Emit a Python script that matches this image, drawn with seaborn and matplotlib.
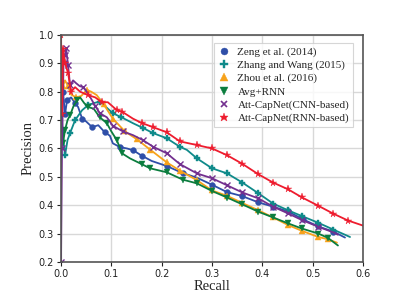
import matplotlib
matplotlib.use("Agg")
import matplotlib.pyplot as plt
from matplotlib.lines import Line2D
import seaborn as sns
import pandas as pd

labels = ["Zeng et al. (2014)", "Zhang and Wang (2015)", "Zhou et al. (2016)",
          "Avg+RNN", "Att-CapNet(CNN-based)", "Att-CapNet(RNN-based)"]

zeng_r = [0.0, 0.004, 0.008, 0.012, 0.02, 0.028, 0.034, 0.042, 0.05, 0.062, 0.074, 0.087, 0.097, 0.103,
          0.117, 0.131, 0.143, 0.16, 0.18, 0.21, 0.242, 0.27, 0.3, 0.33, 0.36, 0.392, 0.421, 0.451,
          0.481, 0.511, 0.541, 0.564]
zeng_p = [0.9, 0.8, 0.72, 0.77, 0.78, 0.76, 0.746, 0.705, 0.695, 0.675, 0.682, 0.657, 0.645, 0.618,
          0.605, 0.6, 0.594, 0.575, 0.556, 0.538, 0.513, 0.497, 0.472, 0.446, 0.432, 0.41, 0.395, 0.378,
          0.35, 0.325, 0.307, 0.286]

zhang_r = [0.0, 0.003, 0.008, 0.013, 0.018, 0.028, 0.042, 0.054, 0.065, 0.077, 0.09, 0.103, 0.12, 0.143,
           0.163, 0.183, 0.21, 0.236, 0.25, 0.27, 0.3, 0.33, 0.36, 0.392, 0.421, 0.451, 0.478, 0.511,
           0.541, 0.574]
zhang_p = [0.72, 0.66, 0.576, 0.63, 0.654, 0.70, 0.735, 0.753, 0.76, 0.765, 0.745, 0.724, 0.71, 0.689,
           0.672, 0.654, 0.636, 0.606, 0.595, 0.565, 0.53, 0.512, 0.48, 0.442, 0.406, 0.382, 0.362, 0.338,
           0.314, 0.288]

zhou_r = [0.0, 0.004, 0.008, 0.014, 0.02, 0.03, 0.04, 0.052, 0.06, 0.071, 0.085, 0.103, 0.127, 0.151,
          0.177, 0.21, 0.236, 0.27, 0.3, 0.33, 0.36, 0.392, 0.421, 0.451, 0.478, 0.511, 0.53, 0.548]
zhou_p = [0.95, 0.82, 0.84, 0.82, 0.79, 0.78, 0.785, 0.806, 0.80, 0.788, 0.755, 0.705, 0.66, 0.632,
          0.596, 0.551, 0.522, 0.488, 0.452, 0.433, 0.408, 0.382, 0.357, 0.33, 0.31, 0.288, 0.28, 0.268]

avg_r = [0.0, 0.004, 0.008, 0.013, 0.018, 0.025, 0.032, 0.038, 0.046, 0.054, 0.065, 0.077, 0.091, 0.1,
         0.111, 0.121, 0.137, 0.16, 0.177, 0.21, 0.242, 0.27, 0.3, 0.33, 0.36, 0.392, 0.421, 0.451,
         0.478, 0.511, 0.53, 0.55]
avg_p = [0.8, 0.62, 0.665, 0.70, 0.717, 0.75, 0.77, 0.78, 0.76, 0.746, 0.74, 0.71, 0.689, 0.66,
         0.629, 0.583, 0.565, 0.545, 0.53, 0.516, 0.49, 0.477, 0.45, 0.427, 0.403, 0.377, 0.357, 0.336,
         0.318, 0.3, 0.285, 0.258]

cnn_r = [0.0, 0.002, 0.005, 0.008, 0.01, 0.014, 0.018, 0.024, 0.03, 0.037, 0.044, 0.055, 0.068, 0.077,
         0.091, 0.103, 0.123, 0.143, 0.163, 0.183, 0.21, 0.236, 0.27, 0.3, 0.33, 0.36, 0.392, 0.421,
         0.451, 0.478, 0.511, 0.541, 0.55]
cnn_p = [0.2, 0.6, 0.9, 0.93, 0.954, 0.894, 0.823, 0.84, 0.83, 0.82, 0.816, 0.79, 0.75, 0.724,
         0.71, 0.68, 0.66, 0.647, 0.629, 0.606, 0.583, 0.545, 0.512, 0.495, 0.47, 0.445, 0.424, 0.395,
         0.371, 0.348, 0.324, 0.304, 0.296]

rnn_r = [0.0, 0.002, 0.004, 0.008, 0.014, 0.02, 0.028, 0.038, 0.054, 0.068, 0.081, 0.093, 0.111, 0.121,
         0.143, 0.16, 0.183, 0.21, 0.236, 0.27, 0.3, 0.33, 0.36, 0.392, 0.421, 0.451, 0.478, 0.511,
         0.541, 0.57, 0.6, 0.62]
rnn_p = [1.0, 0.72, 0.95, 0.9, 0.866, 0.8, 0.816, 0.8, 0.788, 0.78, 0.763, 0.763, 0.735, 0.73,
         0.705, 0.69, 0.675, 0.657, 0.625, 0.612, 0.6, 0.576, 0.546, 0.509, 0.48, 0.456, 0.428, 0.398,
         0.37, 0.346, 0.328, 0.318]

x_ticks = [0.0, 0.1, 0.2, 0.3, 0.4, 0.5, 0.6]
y_ticks = [0.2, 0.3, 0.4, 0.5, 0.6, 0.7, 0.8, 0.9, 1.0]

series = [(zeng_r, zeng_p), (zhang_r, zhang_p), (zhou_r, zhou_p),
          (avg_r, avg_p), (cnn_r, cnn_p), (rnn_r, rnn_p)]
colors = ["#2f4fa8", "#0f8a8a", "#f7a21b", "#0b7d3e", "#73308f", "#ee1c2e"]
markers = ["o", "P", "^", "v", "x", "*"]
msizes = [4.2, 4.5, 4.5, 4.5, 4.0, 5.5]

sns.set_theme(style="whitegrid")
plt.rcParams["font.family"] = ["DejaVu Sans"]

fig = plt.figure(figsize=(4.15, 2.94), dpi=100)
ax = fig.add_axes([0.147, 0.109, 0.728, 0.772])

for (r, p), lab, c, m, ms in zip(series, labels, colors, markers, msizes):
    df = pd.DataFrame({"Recall": r, "Precision": p})
    sns.lineplot(data=df, x="Recall", y="Precision", ax=ax, sort=False, estimator=None,
                 color=c, linewidth=1.3, marker=m, markersize=ms, markevery=0.042,
                 markeredgewidth=1.0 if m == "x" else 0.3, markeredgecolor=c, legend=False)

ax.set_xlim(0, 0.6)
ax.set_ylim(0.2, 1.0)
ax.set_xticks(x_ticks)
ax.set_yticks(y_ticks)
ax.set_xticklabels([f"{v:.1f}" for v in x_ticks])
ax.set_yticklabels([f"{v:.1f}" for v in y_ticks])
ax.tick_params(labelsize=7, colors="#222222", length=3, width=0.8, pad=2, bottom=True, left=True)
ax.grid(True, color="#d8d8d8", linewidth=1.0)
for s in ax.spines.values():
    s.set_color("#555555")
    s.set_linewidth(1.2)

serif = ["Liberation Serif", "DejaVu Serif"]
ax.set_xlabel("Recall", fontsize=10.5, family=serif, labelpad=1)
ax.set_ylabel("Precision", fontsize=10.5, family=serif, labelpad=3)

handles = [Line2D([], [], linestyle="none", marker=m, color=c, markersize=ms + 0.8,
                  markeredgewidth=1.2 if m == "x" else 0.3)
           for m, c, ms in zip(markers, colors, msizes)]
leg = ax.legend(handles, labels, loc="upper right", bbox_to_anchor=(0.985, 0.99),
                prop={"family": serif, "size": 8}, frameon=True, labelspacing=0.3,
                handletextpad=0.6, borderpad=0.35, handlelength=1.2, fancybox=False)
leg.get_frame().set_edgecolor("#cccccc")
leg.get_frame().set_linewidth(0.8)

fig.savefig("out.png", dpi=100)
